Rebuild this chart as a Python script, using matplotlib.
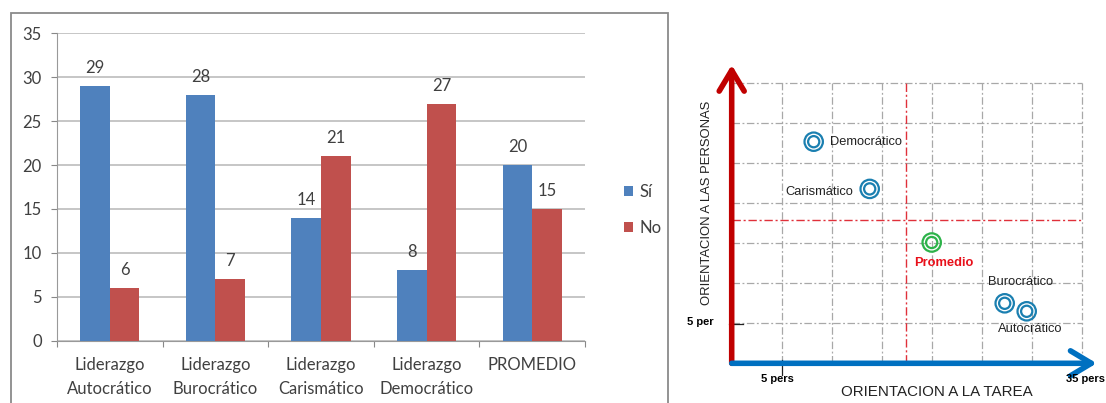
import matplotlib
matplotlib.use("Agg")
import matplotlib.pyplot as plt
import numpy as np
from matplotlib.patches import Rectangle

# bar chart data
categories = ["Liderazgo\nAutocrático", "Liderazgo\nBurocrático", "Liderazgo\nCarismático",
              "Liderazgo\nDemocrático", "PROMEDIO"]
si_values = [29, 28, 14, 8, 20]
no_values = [6, 7, 21, 27, 15]

# quadrant chart data
styles = ["Democrático", "Carismático", "Promedio", "Burocrático", "Autocrático"]
tarea = [8.2, 13.8, 20.0, 27.3, 29.5]
personas = [27.7, 21.8, 15.1, 7.5, 6.5]
grid_vals = [5, 10, 15, 20, 25, 30, 35]
mid_x = 17.4
mid_y = 17.9

W, H = 1106, 403
fig = plt.figure(figsize=(W / 100, H / 100), dpi=100)

# ---------------- left: bar chart ----------------
ax = fig.add_axes([57 / W, (H - 340.7) / H, 528 / W, 307.4 / H])
x = np.arange(len(categories))
w = 0.28
bars_si = ax.bar(x - w / 2, si_values, w, color="#4F81BD", label="Sí", zorder=3)
bars_no = ax.bar(x + w / 2, no_values, w, color="#C0504D", label="No", zorder=3)
for b in list(bars_si) + list(bars_no):
    ax.annotate(str(int(b.get_height())), (b.get_x() + b.get_width() / 2, b.get_height()),
                xytext=(0, 18), textcoords="offset pixels", ha="center", va="center",
                fontsize=12, color="#404040", family="Lato")

ax.set_xlim(-0.5, 4.5)
ax.set_ylim(0, 35)
ax.set_yticks(range(0, 36, 5))
ax.yaxis.grid(True, color="#bcbcbc", lw=1.2)
ax.set_axisbelow(True)
ax.set_xticks(np.arange(-0.5, 5, 1))
ax.set_xticklabels([])
ax.set_xticks(x, minor=True)
ax.set_xticklabels(categories, minor=True, fontsize=12, color="#404040",
                   family="Lato", linespacing=1.6)
ax.tick_params(axis="x", which="minor", length=0, pad=12)
ax.tick_params(axis="x", which="major", length=4, color="#888888")
ax.tick_params(axis="y", length=4, color="#888888", labelsize=12, labelcolor="#404040", pad=7)
for lab in ax.get_yticklabels():
    lab.set_family("Lato")
for s in ["top", "right"]:
    ax.spines[s].set_visible(False)
for s in ["left", "bottom"]:
    ax.spines[s].set_color("#999999")

leg = fig.legend(handles=[bars_si, bars_no], labels=["Sí", "No"], loc="center left",
                 bbox_to_anchor=(609 / W, 1 - 210 / H), frameon=False,
                 handlelength=0.55, handleheight=0.55, handletextpad=0.4,
                 labelspacing=1.2, prop={"family": "Lato", "size": 12})
for t in leg.get_texts():
    t.set_color("#404040")

fig.patches.append(Rectangle((10.7 / W, -0.1), (667.7 - 10.7) / W, (H - 12.7) / H + 0.1,
                             transform=fig.transFigure, fill=False, ec="#8a8a8a", lw=1.3))

# ---------------- right: quadrant chart ----------------
ax2 = fig.add_axes([731.7 / W, (H - 363.3) / H, 370 / W, 300 / H])
ax2.set_xlim(0, 37)
ax2.set_ylim(0, 37.5)
ax2.axis("off")

dashdot = (0, (6, 2, 1.5, 2))
for g in grid_vals:
    ax2.plot([g, g], [0, 35], color="#a8a8a8", lw=0.9, ls=dashdot, zorder=1)
    ax2.plot([0, 35], [g, g], color="#a8a8a8", lw=0.9, ls=dashdot, zorder=1)
ax2.plot([mid_x, mid_x], [0, 35], color="#e0303a", lw=1.0, ls=dashdot, zorder=2)
ax2.plot([0, 35], [mid_y, mid_y], color="#e0303a", lw=1.0, ls=dashdot, zorder=2)

# tick marks
ax2.plot([5, 5], [-1.4, 0.4], color="#222222", lw=0.9, clip_on=False, zorder=3)
ax2.plot([-0.3, 1.1], [4.9, 4.9], color="#222222", lw=0.9, clip_on=False, zorder=3)

ax2.annotate("", xy=(0, 37.3), xytext=(0, 0), annotation_clip=False,
             arrowprops=dict(arrowstyle="->,head_length=0.75,head_width=0.45", color="#c00000",
                             lw=4, shrinkA=0, shrinkB=0, mutation_scale=20), zorder=4)
ax2.annotate("", xy=(36.5, 0), xytext=(0, 0), annotation_clip=False,
             arrowprops=dict(arrowstyle="->,head_length=0.75,head_width=0.45", color="#0070c0",
                             lw=4, shrinkA=0, shrinkB=0, mutation_scale=20), zorder=5)

cols = ["#2db34a" if s == "Promedio" else "#1a7fb0" for s in styles]
ax2.scatter(tarea, personas, s=175, facecolors="none", edgecolors=cols, linewidths=1.6, zorder=6)
ax2.scatter(tarea, personas, s=65, facecolors="none", edgecolors=cols, linewidths=1.6, zorder=6)

label_pos = {
    "Democrático": ((16, 0), "left"),
    "Carismático": ((-16, -3), "right"),
    "Promedio": ((12, -20), "center"),
    "Burocrático": ((16, 21), "center"),
    "Autocrático": ((4, -18), "center"),
}
for s, tx, py in zip(styles, tarea, personas):
    off, ha = label_pos[s]
    if s == "Promedio":
        ax2.annotate(s, (tx, py), xytext=off, textcoords="offset pixels", ha=ha, va="center",
                     fontsize=9.3, fontweight="bold", color="#e8101a", family="Liberation Sans")
    else:
        ax2.annotate(s, (tx, py), xytext=off, textcoords="offset pixels", ha=ha, va="center",
                     fontsize=9.3, color="#222222", family="Liberation Sans")

fig.text(936.7 / W, 1 - 391.7 / H, "ORIENTACION A LA TAREA", ha="center", va="center",
         fontsize=10.9, color="#222222", family="Liberation Sans")
fig.text(706.7 / W, 1 - 202.5 / H, "ORIENTACION A LAS PERSONAS", ha="center", va="center",
         rotation=90, fontsize=9.4, color="#222222", family="Liberation Sans")
fig.text(700 / W, 1 - 321.7 / H, "5 per", ha="center", va="center", fontsize=8,
         fontweight="bold", family="Liberation Sans")
fig.text(777.3 / W, 1 - 379.3 / H, "5 pers", ha="center", va="center", fontsize=8,
         fontweight="bold", family="Liberation Sans")
fig.text(1085 / W, 1 - 379.3 / H, "35 pers", ha="center", va="center", fontsize=8,
         fontweight="bold", family="Liberation Sans")

fig.savefig("out.png", dpi=100)
